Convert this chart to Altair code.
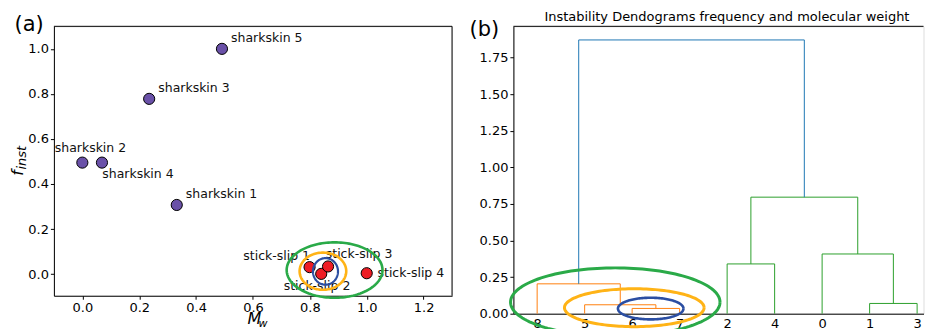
import json
import numpy as np
import pandas as pd
import altair as alt

FONT = "DejaVu Sans"

# ---------------- Panel (a) data ----------------
names = ["sharkskin 1", "sharkskin 2", "sharkskin 3", "sharkskin 4", "sharkskin 5",
         "stick-slip 1", "stick-slip 2", "stick-slip 3", "stick-slip 4"]
kinds = ["sharkskin"] * 5 + ["stick-slip"] * 4
mw = [0.332, 0.0, 0.235, 0.069, 0.491, 0.799, 0.840, 0.864, 1.0]
finst = [0.307, 0.495, 0.778, 0.495, 1.0, 0.031, 0.001, 0.034, 0.004]
# label anchor (left, baseline) in data units
label_x = [0.364, -0.097, 0.267, 0.070, 0.523, 0.566, 0.708, 0.856, 1.038]
label_y = [0.337, 0.541, 0.809, 0.426, 1.031, 0.063, -0.070, 0.071, -0.015]

# ellipses in panel (a): centre, width, height (data units)
ella_cx = [0.887, 0.846, 0.855]
ella_cy = [0.018, 0.013, 0.012]
ella_w = [0.337, 0.164, 0.088]
ella_h = [0.246, 0.165, 0.118]
ella_col = ["#2aaa48", "#ffb316", "#2b4ea2"]
ella_sw = [2.6, 2.6, 2.2]

# ---------------- Panel (b) data ----------------
leaf_labels = ["8", "5", "6", "7", "2", "4", "0", "1", "3"]
leaf_pos = [5, 15, 25, 35, 45, 55, 65, 75, 85]
icoord = [[25, 25, 35, 35], [15, 15, 30, 30], [5, 5, 22.5, 22.5],
          [45, 45, 55, 55], [75, 75, 85, 85], [65, 65, 80, 80],
          [50, 50, 72.5, 72.5], [13.75, 13.75, 61.25, 61.25]]
dcoord = [[0, 0.036, 0.036, 0], [0, 0.061, 0.061, 0.036], [0, 0.204, 0.204, 0.061],
          [0, 0.340, 0.340, 0], [0, 0.070, 0.070, 0], [0, 0.408, 0.408, 0.070],
          [0.340, 0.796, 0.796, 0.408], [0.204, 1.870, 1.870, 0.796]]
link_col = ["#ff7f0e", "#ff7f0e", "#ff7f0e", "#2ca02c", "#2ca02c", "#2ca02c", "#2ca02c", "#1f77b4"]

ellb_cx = [21.45, 25.45, 28.91]
ellb_cy = [0.079, 0.041, 0.035]
ellb_w = [44.1, 29.4, 13.8]
ellb_h = [0.468, 0.259, 0.148]
ellb_col = ["#2aaa48", "#ffb316", "#2b4ea2"]
ellb_sw = [3.0, 3.0, 2.6]

WA, HA = 399, 270
WB, HB = 411, 288
PX_PER_LEAF_UNIT = 4.76


def ellipse_df(cx, cy, w, h, col, sw):
    t = np.linspace(0, 2 * np.pi, 145)
    rows = []
    for i in range(len(cx)):
        for k, tt in enumerate(t):
            rows.append(dict(e=i, k=k, x=cx[i] + w[i] / 2 * np.cos(tt),
                             y=cy[i] + h[i] / 2 * np.sin(tt), c=col[i], sw=sw[i]))
    return pd.DataFrame(rows)


def ann(text, x, y, size, align="left", baseline="alphabetic", angle=0, style="normal"):
    return alt.Chart(pd.DataFrame({"t": [text]})).mark_text(
        text=text, fontSize=size, font=FONT, align=align, baseline=baseline,
        angle=angle, fontStyle=style, color="black"
    ).encode(x=alt.value(x), y=alt.value(y))


def frame_rule(x, x2, y, y2):
    return alt.Chart(pd.DataFrame({"a": [0]})).mark_rule(color="black", strokeWidth=1).encode(
        x=alt.value(x), x2=alt.value(x2), y=alt.value(y), y2=alt.value(y2))


# ---------------- Panel (a) ----------------
pts = pd.DataFrame({"name": names, "kind": kinds, "mw": mw, "f": finst,
                    "lx": label_x, "ly": label_y})
xa = alt.Scale(domain=[-0.1, 1.3], nice=False, zero=False)
ya = alt.Scale(domain=[-0.096, 1.10], nice=False, zero=False)
xaxis_a = alt.Axis(values=[0, 0.2, 0.4, 0.6, 0.8, 1.0, 1.2], format=".1f", title=None, grid=False,
                   domainColor="black", tickColor="black", tickSize=3.5, labelPadding=2,
                   labelFontSize=13, labelFont=FONT, labelColor="black")
yaxis_a = alt.Axis(values=[0, 0.2, 0.4, 0.6, 0.8, 1.0], format=".1f", title=None, grid=False,
                   domainColor="black", tickColor="black", tickSize=3.5, labelPadding=2,
                   labelFontSize=13, labelFont=FONT, labelColor="black")

points = alt.Chart(pts).mark_point(filled=True, size=125, stroke="black", strokeWidth=1,
                                   opacity=1).encode(
    x=alt.X("mw:Q", scale=xa, axis=xaxis_a),
    y=alt.Y("f:Q", scale=ya, axis=yaxis_a),
    fill=alt.Fill("kind:N", scale=alt.Scale(domain=["sharkskin", "stick-slip"],
                                            range=["#6a51a8", "#ee1c24"]), legend=None),
)
labels = alt.Chart(pts).mark_text(align="left", baseline="alphabetic", fontSize=12.5,
                                  font=FONT, color="#111111").encode(
    x=alt.X("lx:Q", scale=xa), y=alt.Y("ly:Q", scale=ya), text="name:N")
ella = alt.Chart(ellipse_df(ella_cx, ella_cy, ella_w, ella_h, ella_col, ella_sw)).mark_line().encode(
    x=alt.X("x:Q", scale=xa), y=alt.Y("y:Q", scale=ya), detail="e:N", order="k:Q",
    color=alt.Color("c:N", scale=None), strokeWidth=alt.StrokeWidth("sw:Q", scale=None))

panel_a = alt.layer(
    points, labels, ella,
    frame_rule(0, WA, 0, 0), frame_rule(WA, WA, 0, HA),
    ann("(a)", -39.5, 4.5, 21),
    ann("f", -31, 149.7, 16, angle=270, style="italic"),
    ann("inst", -28, 143.6, 13, angle=270, style="italic"),
    ann("M", 194, 298.5, 16, style="italic"),
    ann("w", 205, 301.5, 11, style="italic"),
).properties(width=WA, height=HA)

# ---------------- Panel (b) ----------------
lrows = []
for i, (xs, ys) in enumerate(zip(icoord, dcoord)):
    for k in range(4):
        lrows.append(dict(link=i, k=k, x=xs[k], y=ys[k], c=link_col[i]))
links = pd.DataFrame(lrows)

xb = alt.Scale(domain=[0, WB / PX_PER_LEAF_UNIT], nice=False, zero=False)
yb = alt.Scale(domain=[0, 1.963], nice=False, zero=False)
lab_expr = json.dumps(leaf_labels) + "[round((datum.value - 5) / 10)]"
xaxis_b = alt.Axis(values=leaf_pos, labelExpr=lab_expr, title=None, grid=False, ticks=False,
                   domainColor="black", labelPadding=4, labelFontSize=13, labelFont=FONT,
                   labelColor="black")
yaxis_b = alt.Axis(values=[0, 0.25, 0.5, 0.75, 1.0, 1.25, 1.5, 1.75], format=".2f", title=None,
                   grid=False, domainColor="black", tickColor="black", tickSize=3.5,
                   labelPadding=2, labelFontSize=13, labelFont=FONT, labelColor="black")

dendro = alt.Chart(links).mark_line(strokeWidth=1.0).encode(
    x=alt.X("x:Q", scale=xb, axis=xaxis_b), y=alt.Y("y:Q", scale=yb, axis=yaxis_b),
    detail="link:N", order="k:Q", color=alt.Color("c:N", scale=None))
ellb = alt.Chart(ellipse_df(ellb_cx, ellb_cy, ellb_w, ellb_h, ellb_col, ellb_sw)).mark_line().encode(
    x=alt.X("x:Q", scale=xb), y=alt.Y("y:Q", scale=yb), detail="e:N", order="k:Q",
    color=alt.Color("c:N", scale=None), strokeWidth=alt.StrokeWidth("sw:Q", scale=None))

panel_b = alt.layer(
    dendro, ellb,
    frame_rule(0, WB, 0, 0),
    ann("(b)", -44, 9.6, 21),
    ann("Instability Dendograms frequency and molecular weight", 214, -5.5, 13, align="center"),
).properties(width=WB, height=HB)

chart = alt.hconcat(panel_a, panel_b, spacing=61.5, bounds="flush").properties(
    padding={"left": 1, "top": 2, "right": 0, "bottom": 0}
).configure_view(strokeOpacity=0).configure(font=FONT)

chart.save("out.html", embed_options={"renderer": "svg", "actions": False})
